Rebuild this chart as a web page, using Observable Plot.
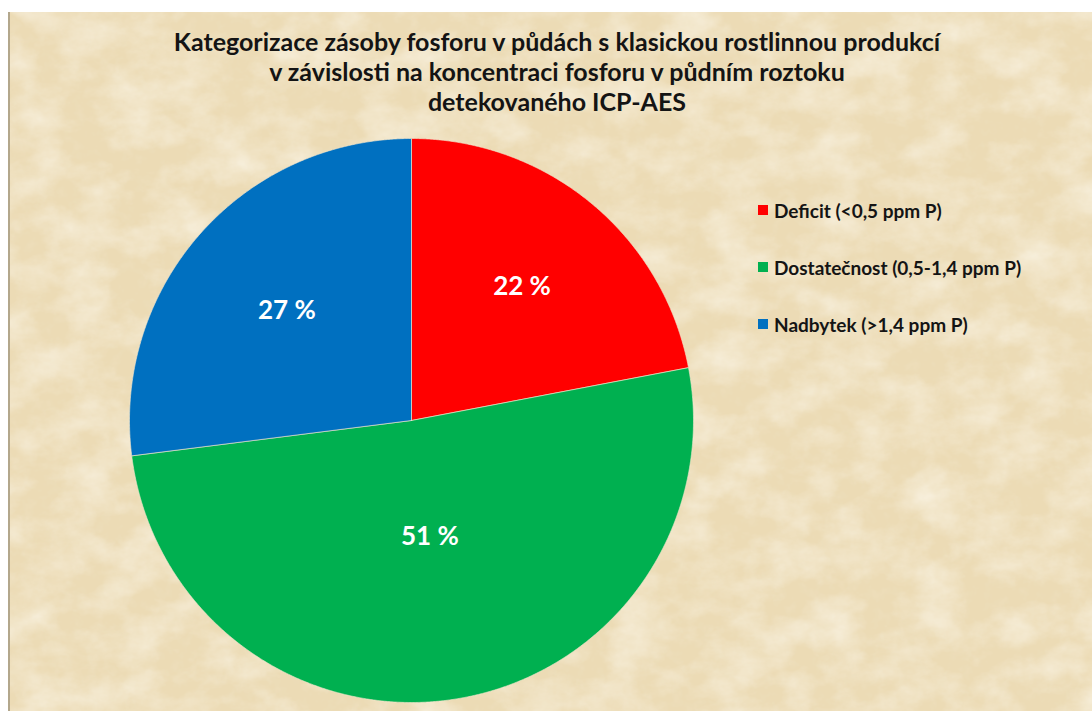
<!DOCTYPE html>
<html>
<head>
<meta charset="utf-8">
<script src="https://cdn.jsdelivr.net/npm/d3@7"></script>
<script src="https://cdn.jsdelivr.net/npm/@observablehq/plot@0.6"></script>
<style>
  html, body { margin: 0; padding: 0; background: #ffffff; overflow: hidden; }
  #frame {
    position: absolute; left: 8px; top: 12px; width: 1084px; height: 699px;
    border-left: 2px solid #b3a78c;
    background-color: #ecdcb6;
    overflow: hidden;
  }
  #texture { position: absolute; left: 0; top: 0; }
  #title {
    position: absolute; left: 0; top: 14px; width: 1094px;
    text-align: center; font-family: Lato, "Open Sans", sans-serif; font-weight: 700;
    font-size: 25px; line-height: 30px; color: #141414;
  }
  #chart { position: absolute; left: 115px; top: 122px; }
  #legend {
    position: absolute; left: 748px; top: 187px;
    font-family: Lato, "Open Sans", sans-serif; font-weight: 700; font-size: 19px; color: #141414;
  }
  .item { display: flex; align-items: center; height: 22px; margin-bottom: 35px; }
  .sw { width: 10px; height: 10px; margin-right: 6px; }
</style>
</head>
<body>
<div id="frame">
  <svg id="texture" width="1084" height="699">
    <filter id="parch" x="0" y="0" width="100%" height="100%">
      <feTurbulence type="fractalNoise" baseFrequency="0.02 0.03" numOctaves="5" seed="7" result="n"/>
      <feColorMatrix in="n" type="matrix"
        values="0 0 0 0 0.97
                0 0 0 0 0.93
                0 0 0 0 0.83
                0 0 0 1.2 -0.45"/>
    </filter>
    <filter id="parch2" x="0" y="0" width="100%" height="100%">
      <feTurbulence type="fractalNoise" baseFrequency="0.08" numOctaves="3" seed="3" result="n"/>
      <feColorMatrix in="n" type="matrix"
        values="0 0 0 0 0.86
                0 0 0 0 0.76
                0 0 0 0 0.55
                0 0 0 1.0 -0.50"/>
    </filter>
    <rect width="1084" height="699" fill="#ecdbb5"/>
    <rect width="1084" height="699" filter="url(#parch2)"/>
    <rect width="1084" height="699" filter="url(#parch)"/>
  </svg>
  <div id="title">Kategorizace zásoby fosforu v půdách s klasickou rostlinnou produkcí<br>v závislosti na koncentraci fosforu v půdním roztoku<br>detekovaného ICP-AES</div>
  <div id="chart"></div>
  <div id="legend"></div>
</div>
<script>
const categories = ["Deficit (<0,5 ppm P)", "Dostatečnost (0,5-1,4 ppm P)", "Nadbytek (>1,4 ppm P)"];
const values = [22, 51, 27];
const colors = ["#ff0000", "#00b050", "#0070c0"];
const labels = ["22 %", "51 %", "27 %"];

const arcs = d3.pie().sort(null).value(d => d)(values);

// slice outlines (unit circle), derived from the data via d3.pie
const slicePts = [];
arcs.forEach((a, i) => {
  const cat = categories[i];
  slicePts.push({cat, x: 0, y: 0});
  const n = Math.max(2, Math.ceil((a.endAngle - a.startAngle) / 0.005));
  for (let k = 0; k <= n; k++) {
    const t = a.startAngle + (a.endAngle - a.startAngle) * k / n;
    slicePts.push({cat, x: Math.sin(t), y: Math.cos(t)});
  }
  slicePts.push({cat, x: 0, y: 0});
});

// labels at the sector centroid
const labelPts = arcs.map((a, i) => {
  const half = (a.endAngle - a.startAngle) / 2;
  const mid = a.startAngle + half;
  const d = 2 * Math.sin(half) / (3 * half);
  return {x: Math.sin(mid) * d, y: Math.cos(mid) * d, text: labels[i]};
});

const R = 282, m = 4;
const chart = Plot.plot({
  width: 2 * R + 2 * m,
  height: 2 * R + 2 * m,
  margin: m,
  style: {background: "transparent", overflow: "visible"},
  x: {domain: [-1, 1], axis: null},
  y: {domain: [-1, 1], axis: null},
  color: {domain: categories, range: colors},
  marks: [
    Plot.line(slicePts, {x: "x", y: "y", z: "cat", fill: "cat", stroke: "#f2e6cc", strokeWidth: 0.8, strokeOpacity: 0.8, curve: "linear-closed"}),
    Plot.text(labelPts, {x: "x", y: "y", text: "text", fill: "white", fontSize: 26, fontWeight: "bold", fontFamily: "Lato, 'Open Sans', sans-serif"})
  ]
});
document.getElementById("chart").appendChild(chart);

const legend = document.getElementById("legend");
categories.forEach((c, i) => {
  const row = document.createElement("div");
  row.className = "item";
  const sw = document.createElement("div");
  sw.className = "sw";
  sw.style.background = colors[i];
  const tx = document.createElement("span");
  tx.textContent = c;
  row.appendChild(sw);
  row.appendChild(tx);
  legend.appendChild(row);
});
</script>
</body>
</html>
